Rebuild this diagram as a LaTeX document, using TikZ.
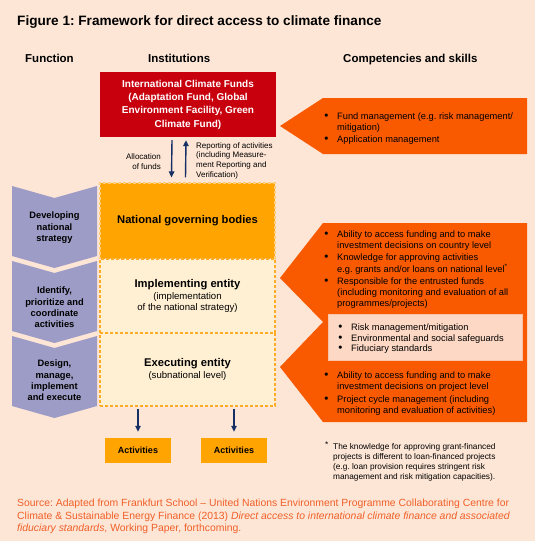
\documentclass[tikz,border=0pt]{standalone}
\usepackage{fontspec}
\setmainfont{Liberation Sans}
\usetikzlibrary{arrows.meta,calc}
\definecolor{bg}{RGB}{253,230,214}
\definecolor{fundred}{RGB}{200,0,14}
\definecolor{arrorange}{RGB}{249,90,0}
\definecolor{boxorange}{RGB}{255,164,0}
\definecolor{cream}{RGB}{255,240,212}
\definecolor{dashorange}{RGB}{255,172,40}
\definecolor{chev}{RGB}{156,156,198}
\definecolor{navy}{RGB}{22,48,102}
\definecolor{innerbox}{RGB}{253,216,196}
\definecolor{innerline}{RGB}{250,196,168}
\definecolor{srccol}{RGB}{240,95,40}
\newcommand\bul{\makebox[15pt][l]{\hspace{2.2pt}\scalebox{1.25}{\textbullet}}}
\frenchspacing
\begin{document}
\begin{tikzpicture}[x=1pt,y=-1pt,
  hdr/.style={anchor=base west,inner sep=0pt,font=\bfseries\fontsize{11.5}{13}\selectfont},
  inst/.style={draw=dashorange,line width=1.1pt,dash pattern=on 3pt off 2pt,fill=cream,minimum width=175pt,align=center,inner sep=0pt},
  chevtext/.style={align=center,inner sep=0pt,font=\bfseries\fontsize{9.3}{11.4}\selectfont},
  list/.style={anchor=base west,inner sep=0pt,font=\fontsize{9.3}{11}\selectfont},
  navyarrow/.style={draw=navy,line width=1.4pt,-{Triangle[length=6pt,width=5.5pt]}},
  actbox/.style={fill=boxorange,minimum width=66pt,minimum height=25pt,inner sep=0pt,font=\bfseries\fontsize{9}{10}\selectfont}
]
\fill[bg] (0,0) rectangle (535,541);
\useasboundingbox (0,0) rectangle (535,541);

% title and headers
\node[anchor=base west,inner sep=0pt,font=\bfseries\fontsize{13.6}{15}\selectfont] (title) at (17,25) {Figure 1: Framework for direct access to climate finance};
\node[hdr] (hfunc) at (25,62.5) {Function};
\node[hdr] (hinst) at (148,62.5) {Institutions};
\node[hdr] (hcomp) at (343,62.5) {Competencies and skills};

% red box
\node[fill=fundred,text=white,minimum width=176pt,minimum height=65pt,inner sep=0pt,align=center,
  font=\bfseries\fontsize{10}{13.3}\selectfont] (icf) at (188,104.5)
  {International Climate Funds\\(Adaptation Fund, Global\\Environment Facility, Green\\Climate Fund)};

% institution boxes
\node[inst,fill=boxorange,draw=dashorange!60!white,minimum height=76pt,font=\bfseries\fontsize{11.2}{13}\selectfont] (nat) at (187.5,221) {National governing bodies};
\node[inst,minimum height=74pt,font=\fontsize{9.6}{11.5}\selectfont] (impl) at (187.5,296)
  {{\bfseries\fontsize{11.2}{13}\selectfont Implementing entity}\\(implementation\\of the national strategy)};
\node[inst,minimum height=73pt,font=\fontsize{9.6}{11.5}\selectfont] (exec) at (187.5,369.5)
  {{\bfseries\fontsize{11.2}{13}\selectfont Executing entity}\\(subnational level)};

% arrows between funds and national
\draw[navyarrow] ($(icf.south)+(-16,3)$) -- ($(nat.north)+(-16,-5)$);
\draw[navyarrow] ($(nat.north)+(-2,-5)$) -- ($(icf.south)+(-2,3)$);
\node[anchor=east,align=right,inner sep=0pt,font=\fontsize{8}{10}\selectfont] (alloc) at (161,161.5) {Allocation\\of funds};
\node[anchor=west,align=left,inner sep=0pt,font=\fontsize{8}{9.7}\selectfont] (report) at (196,160.5) {Reporting of activities\\(including Measure-\\ment Reporting and\\Verification)};

% chevrons
\fill[chev] (12,186) -- (54.5,198) -- (97,186) -- (97,256) -- (54.5,268) -- (12,256) -- cycle;
\fill[chev] (12,261) -- (54.5,273) -- (97,261) -- (97,331) -- (54.5,343) -- (12,331) -- cycle;
\fill[chev] (12,336) -- (54.5,348) -- (97,336) -- (97,406) -- (54.5,418) -- (12,406) -- cycle;
\node[chevtext] (f1) at (54.5,228) {Developing\\national\\strategy};
\node[chevtext] (f2) at (54.5,307.5) {Identify,\\prioritize and\\coordinate\\activities};
\node[chevtext] (f3) at (54.5,380.5) {Design,\\manage,\\implement\\and execute};

% right arrow shapes
\fill[arrorange] (280,126) -- (323,98) -- (527,98) -- (527,154) -- (323,154) -- cycle;
\fill[arrorange] (323,223) -- (527,223) -- (527,422) -- (323,422) -- (280,367) -- (323,322) -- (280,278) -- cycle;
\fill[innerbox,draw=innerline,line width=0.6pt] (328,314) rectangle (522,360);

\node[list] (l1) at (322,119.5) {\begin{tabular}[t]{@{}l@{}l@{}}
\bul & Fund management (e.g. risk management/\\
 & mitigation)\\[1pt]
\bul & Application management
\end{tabular}};
\node[list] (l2) at (322,237.5) {\begin{tabular}[t]{@{}l@{}l@{}}
\bul & Ability to access funding and to make\\
 & investment decisions on country level\\[1pt]
\bul & Knowledge for approving activities\\
 & e.g. grants and/or loans on national level\textsuperscript{*}\\[1pt]
\bul & Responsible for the entrusted funds\\
 & (including monitoring and evaluation of all\\
 & programmes/projects)
\end{tabular}};
\node[list] (l3) at (336,330.5) {\begin{tabular}[t]{@{}l@{}l@{}}
\bul & Risk management/mitigation\\[-0.5pt]
\bul & Environmental and social safeguards\\[-0.5pt]
\bul & Fiduciary standards
\end{tabular}};
\node[list] (l4) at (322,378.5) {\begin{tabular}[t]{@{}l@{}l@{}}
\bul & Ability to access funding and to make\\
 & investment decisions on project level\\[1.5pt]
\bul & Project cycle management (including\\
 & monitoring and evaluation of activities)
\end{tabular}};

% activities
\node[actbox] (act1) at (138,450.5) {Activities};
\node[actbox] (act2) at (234,450.5) {Activities};
\draw[navyarrow] ($(exec.south -| act1.north)+(0,2)$) -- ($(act1.north)+(0,-6)$);
\draw[navyarrow] ($(exec.south -| act2.north)+(0,2)$) -- ($(act2.north)+(0,-6)$);

% footnote
\node[anchor=base west,inner sep=0pt,font=\fontsize{8.3}{10}\selectfont] (foot) at (325,449) {\begin{tabular}[t]{@{}l@{}l@{}}
\makebox[8pt][l]{\raisebox{1.5pt}{*}} & The knowledge for approving grant-financed\\
 & projects is different to loan-financed projects\\
 & (e.g. loan provision requires stringent risk\\
 & management and risk mitigation capacities).
\end{tabular}};

% source
\node[anchor=base west,inner sep=0pt,text=srccol,font=\fontsize{10.4}{12.7}\selectfont] (src) at (17,506.5) {\begin{tabular}[t]{@{}l@{}}
Source: Adapted from Frankfurt School -- United Nations Environment Programme Collaborating Centre for\\
Climate \& Sustainable Energy Finance (2013) \textit{Direct access to international climate finance and associated}\\
\textit{fiduciary standards}, Working Paper, forthcoming.
\end{tabular}};
\end{tikzpicture}
\end{document}
